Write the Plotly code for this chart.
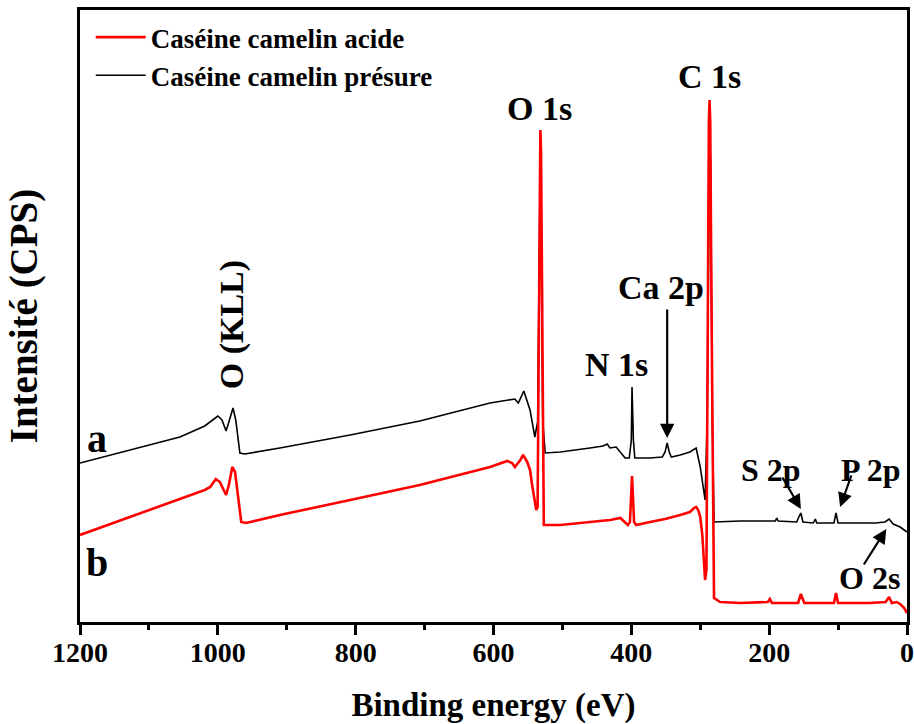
import plotly.graph_objects as go

# ---- data (binding energy eV, intensity a.u.) ----
e_presure = [1200, 1149, 1100, 1055, 1019, 1008, 1000, 994, 988, 984, 978, 974, 968, 961,
             910, 808, 707, 605, 580, 569, 564, 556, 547, 540, 536, 533.5, 532.5, 531, 528.5,
             525, 503, 460, 441, 435, 431, 422, 409, 403, 400, 399, 397, 395, 373, 355, 351,
             348, 345, 342, 329, 315, 306, 300, 296, 293, 290, 287.5, 286.5, 285, 282.5,
             280, 242, 191, 189, 187, 160, 157, 154, 151, 136, 133, 131, 106, 103, 100,
             46, 32, 26, 20, 10, 0]
i_presure = [159, 168, 177, 185, 196, 202, 206, 202, 191, 200, 214, 202, 169, 168,
             174, 187, 201, 219, 222, 223, 219, 231, 212, 185, 200, 400, 440, 400, 200,
             169, 170, 174, 176, 178, 174, 175, 164, 164, 182, 235, 182, 164, 164, 165, 170,
             179, 170, 165, 167, 170, 174, 155, 137, 122, 200, 460, 480, 460, 200,
             100, 101, 101, 104, 101, 100, 105, 109, 100, 99, 103, 99, 99, 109, 99,
             99, 100, 103, 98, 95, 90]

e_acide = [1200, 1127, 1055, 1019, 1011, 1003, 997, 988, 984, 979, 975, 971, 966, 959,
           910, 808, 707, 605, 580, 573, 569, 561, 557, 551, 547, 544, 541, 538, 536,
           534.5, 533, 532, 531, 529.5, 528, 527, 503, 460, 431, 416, 405, 402, 399, 396,
           393, 373, 351, 329, 315, 309, 306, 303, 300, 297, 295, 293, 291, 289.5, 287.5,
           286.5, 285.5, 283.5, 281.5, 280, 271, 242, 202, 199, 196, 158, 154, 149, 106,
           103, 100, 54, 31, 26, 22, 15, 10, 4, 0]
i_acide = [87, 105, 123, 132, 135, 143, 140, 127, 137, 155, 150, 127, 100, 99,
           107, 122, 137, 155, 161, 159, 155, 162, 167, 160, 152, 137, 122, 112, 115,
           280, 470, 492, 470, 280, 110, 97, 97, 100, 102, 104, 97, 100, 146, 100,
           97, 100, 103, 107, 110, 114, 115, 112, 105, 87, 62, 42, 52, 300, 500,
           522, 500, 300, 110, 24, 20, 19, 20, 23, 19, 19, 28, 19, 19,
           29, 19, 19, 20, 25, 19, 20, 18, 14, 9]

x_ticks = [1200, 1000, 800, 600, 400, 200, 0]
x_minor = 100

FONT = "Liberation Serif, Times New Roman, serif"

fig = go.Figure()
fig.add_trace(go.Scatter(x=e_presure, y=i_presure, mode="lines",
                         name="Caséine camelin présure",
                         line=dict(color="black", width=1.6)))
fig.add_trace(go.Scatter(x=e_acide, y=i_acide, mode="lines",
                         name="Caséine camelin acide",
                         line=dict(color="#ff0000", width=2.6)))

labels = [
    ("O (KLL)", 979, 297, -90, 34),
    ("O 1s", 533, 514, 0, 34),
    ("C 1s", 287, 546, 0, 34),
    ("Ca 2p", 357, 335, 0, 34),
    ("N 1s", 422, 258, 0, 34),
    ("S 2p", 198, 152, 0, 32),
    ("P 2p", 52, 152, 0, 32),
    ("O 2s", 55, 44, 0, 32),
    ("a", 1175, 184, 0, 40),
    ("b", 1175, 60, 0, 40),
]
for txt, xx, yy, ang, sz in labels:
    fig.add_annotation(x=xx, y=yy, text=txt, showarrow=False, textangle=ang,
                       font=dict(family=FONT, size=sz, color="black", weight="bold"))

arrows = [
    (348, 184, 348, 314),
    (154, 113, 182, 146),
    (97, 115, 80, 148),
    (30, 93, 64, 56),
]
for hx, hy, tx, ty in arrows:
    fig.add_annotation(x=hx, y=hy, ax=tx, ay=ty, axref="x", ayref="y", text="",
                       showarrow=True, arrowhead=2, arrowsize=1.3, arrowwidth=2.2,
                       arrowcolor="black")

fig.update_layout(
    width=914, height=724,
    margin=dict(l=80, r=7, t=10, b=102),
    paper_bgcolor="white", plot_bgcolor="white",
    showlegend=True,
    legend=dict(x=0.013, y=0.995, xanchor="left", yanchor="top", traceorder="reversed",
                bgcolor="rgba(0,0,0,0)", font=dict(family=FONT, size=27, color="black", weight="bold"),
                tracegroupgap=0, itemwidth=50),
    xaxis=dict(range=[1200, 0], tickvals=x_ticks, ticks="outside", ticklen=10, tickwidth=2.5,
               tickcolor="black", showline=True, linewidth=2.5, linecolor="black", mirror=True,
               showgrid=False, zeroline=False, automargin=False, ticklabelstandoff=-6,
               minor=dict(dtick=x_minor, ticks="outside", ticklen=5, tickwidth=2.5, tickcolor="black"),
               tickfont=dict(family=FONT, size=28, color="black", weight="bold"),
               title=dict(text="Binding energy (eV)", standoff=27,
                          font=dict(family=FONT, size=33, color="black", weight="bold"))),
    yaxis=dict(range=[0, 612], showticklabels=False, ticks="", showline=True, linewidth=2.5,
               linecolor="black", mirror=True, showgrid=False, zeroline=False, automargin=False,
               title=dict(text="Intensité (CPS)", standoff=28,
                          font=dict(family=FONT, size=39, color="black", weight="bold"))),
)

fig.write_html("out.html")
